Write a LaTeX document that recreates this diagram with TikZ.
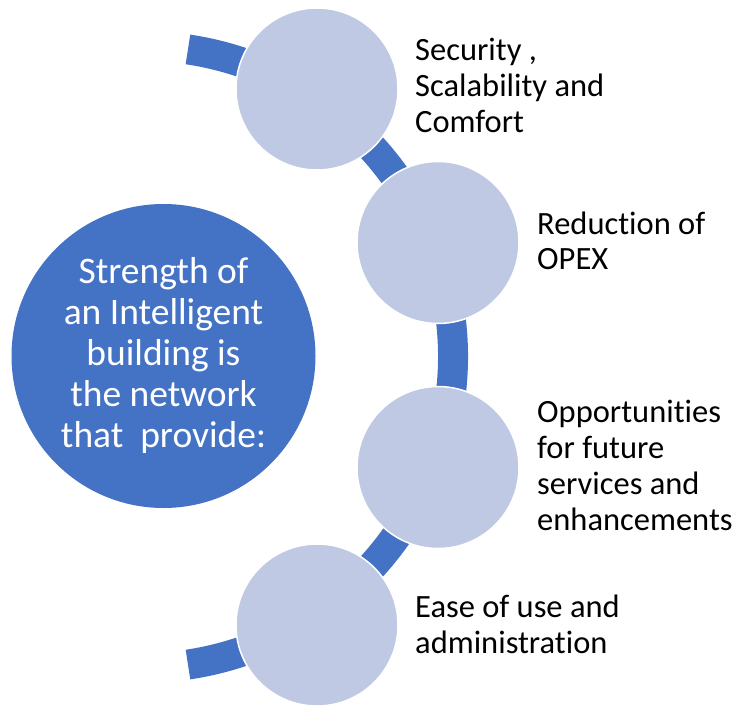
\documentclass[tikz,border=0pt]{standalone}
\usepackage{fontspec}
\setmainfont{Carlito}[Ligatures=NoCommon]
\usepackage{xcolor}
\usepackage{tikz}
\definecolor{hubblue}{RGB}{68,114,196}
\definecolor{itemblue}{RGB}{191,201,227}

\begin{document}
\begin{tikzpicture}[x=1pt, y=1pt,
	item/.style={circle, fill=itemblue, draw=white, line width=1.5pt, minimum size=162pt, inner sep=0pt},
	caption/.style={anchor=base west, align=left, inner sep=0pt, font=\fontsize{32.5}{36}\selectfont}]
	\useasboundingbox (0,0) rectangle (738,705);
	\draw[line width=30pt, hubblue] (142,348) ++(81.5:311) arc[start angle=81.5, end angle=-81.5, radius=311];
	\node[circle, fill=hubblue, minimum size=304pt, inner sep=0pt, text=white, align=center, font=\fontsize{37.5}{41}\selectfont] (hub) at (163.5,349) {Strength of\\ an Intelligent\\ building is\\ the network\\ that\ \ provide:};
	\node[item] (security) at (317,616) {};
	\node[item] (opex) at (438,462.5) {};
	\node[item] (future) at (438,237.5) {};
	\node[item] (ease) at (317,80) {};
	% captions sit on the baseline of their last line
	\node[caption] (securitytext) at (415,572) {Security ,\\ Scalability and\\ Comfort};
	\node[caption] (opextext) at (537,435) {Reduction of\\ OPEX};
	\node[caption] (futuretext) at (537,175) {Opportunities\\ for future\\ services and\\ enhancements};
	\node[caption] (easetext) at (415,52) {Ease of use and\\ administration};
\end{tikzpicture}
\end{document}
